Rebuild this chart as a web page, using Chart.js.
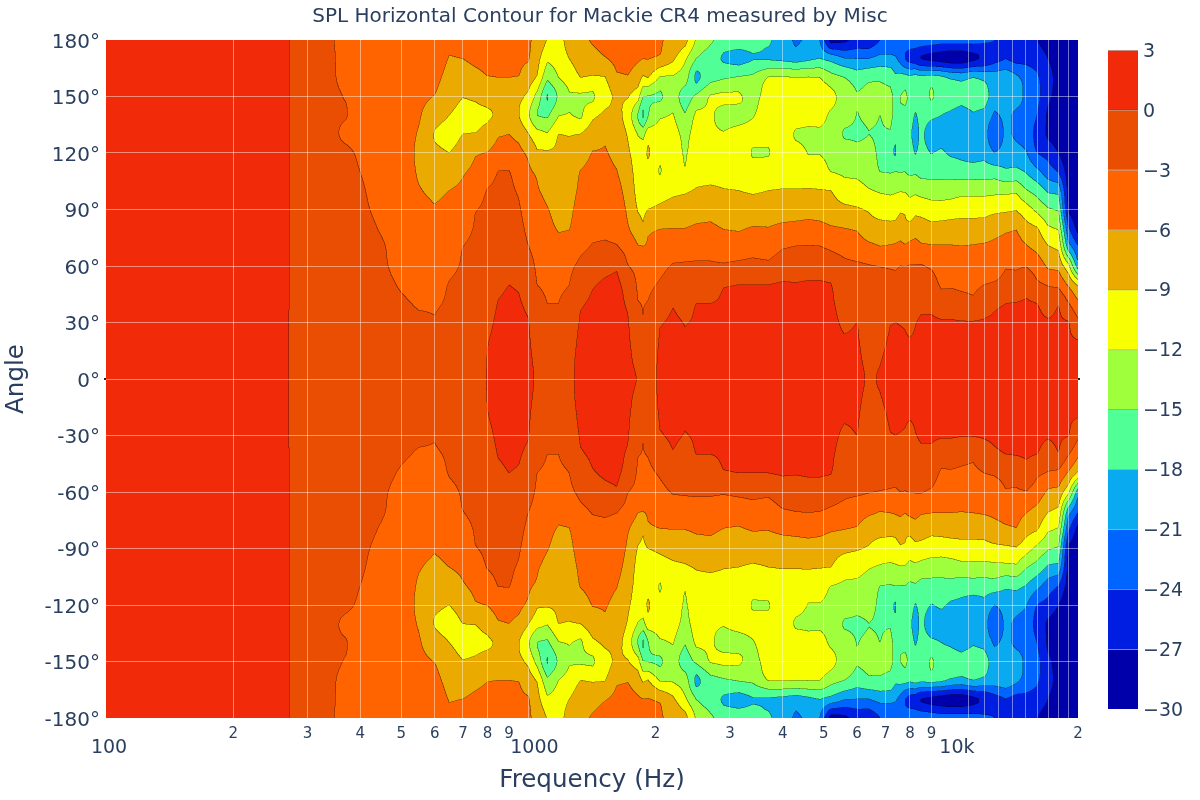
<!DOCTYPE html>
<html><head><meta charset="utf-8">
<style>html,body{margin:0;padding:0;background:#fff}canvas{display:block;position:absolute;top:0}</style>
<script src="https://cdn.jsdelivr.net/npm/chart.js@4.4.0/dist/chart.umd.js"></script>
</head><body>
<canvas id="main" width="1200" height="800" style="left:0"></canvas>
<canvas id="bar" width="100" height="800" style="left:1100px"></canvas>
<script>
const chartTitle = "SPL Horizontal Contour for Mackie CR4 measured by Misc";
const angleSteps = [0,10,20,30,40,50,60,70,80,90,100,110,120,130,140,150,160,170,180];
const levels = [-30,-27,-24,-21,-18,-15,-12,-9,-6,-3,0,3];
const bandColors = [[0,0,170],[0,30,225],[0,100,255],[10,170,240],[80,255,150],[160,255,60],[248,255,0],[234,170,0],[255,100,0],[233,78,3],[241,43,10]];
const xTickValues = [100,200,300,400,500,600,700,800,900,1000,2000,3000,4000,5000,6000,7000,8000,9000,10000,11000,12000,13000,14000,15000,16000,17000,18000,19000,20000];
const xTickLabels = [" 100","2","3","4","5","6","7","8","9","  1000","2","3","4","5","6","7","8","9","  10k","","","","","","","","","","2"];
const yTickValues = [-180,-150,-120,-90,-60,-30,0,30,60,90,120,150,180];

// SPL (dB) per frequency, angles 0..180 every 10 degrees
const s100=[1,1,1,1,1,1,1,1,1,1,1,1,1,1,1,1,1,1,1];
const s200=[1,1,1,1,1,1,1,1,1,1,1,1,1,1,1,1,1,1,1];
const s250=[.6,.6,.6,.6,.6,.6,.6,.6,.6,.6,.6,.6,.6,.6,.6,.6,.6,.6,.6];
const s270=[.05,.05,.05,.05,.1,.1,.1,.1,.1,.1,.1,.1,.1,.1,.1,.1,.1,.1,.1];
const s300=[-1.5,-1.5,-1.5,-1.5,-1.5,-1.5,-1.5,-1.5,-1.5,-1.5,-1.5,-1.5,-1.5,-1.5,-1.5,-1.5,-1.5,-1.5,-1.5];
const s340=[-1.6,-1.6,-1.7,-1.8,-1.9,-2,-2,-2.1,-2.2,-2.2,-2.3,-2.3,-2.4,-2.5,-2.6,-2.6,-2.7,-2.7,-2.8];
const s370=[-1.5,-1.5,-1.6,-1.6,-1.7,-1.8,-1.8,-1.9,-2,-2.1,-2.3,-2.4,-2.6,-3.4,-2.9,-3.1,-3.5,-3.6,-3.6];
const s400=[-1.2,-1.2,-1.3,-1.5,-1.5,-1.8,-2,-2,-2.2,-2.5,-2.7,-3,-3.3,-3.8,-3.8,-3.8,-4,-4,-4];
const s450=[-1.6,-1.6,-1.7,-1.8,-2,-2.4,-2.7,-2.8,-3.2,-3.6,-3.9,-4.1,-4.2,-4.3,-4.3,-4.4,-4.5,-4.5,-4.5];
const s500=[-2,-2,-2.2,-2.4,-2.7,-3.2,-3.6,-3.8,-4,-4.2,-4.3,-4.4,-4.5,-4.5,-4.6,-4.8,-4.8,-4.8,-4.8];
const s550=[-2.2,-2.3,-2.5,-2.7,-3.2,-3.8,-4.2,-4.5,-4.8,-5.2,-5.8,-6.3,-6.5,-6.2,-5.6,-5.2,-5,-5,-5];
const s600=[-2.4,-2.4,-2.6,-2.9,-3.2,-3.8,-4.4,-4.9,-5.3,-5.8,-6.6,-7.5,-8.5,-9.1,-8,-6.1,-5.3,-5,-5];
const s650=[-2.2,-2.2,-2.3,-2.5,-2.8,-2.9,-3.5,-4.2,-4.8,-5.4,-6,-7.5,-9,-9.8,-9,-7.8,-6.8,-6.1,-5.7];
const s700=[-1.8,-1.8,-1.9,-2,-2.2,-2.5,-2.8,-3,-3.8,-4.5,-5.5,-6.3,-8,-9,-9.8,-8.9,-7,-6,-5.6];
const s750=[-1.2,-1.3,-1.4,-1.6,-1.8,-2,-2.3,-2.5,-2.8,-3.1,-4.2,-5.3,-6.3,-8.9,-9.5,-8.6,-6.6,-5.7,-5.4];
const s800=[.1,.05,-.1,-.5,-.9,-1.3,-1.8,-2,-2.3,-2.6,-2.9,-4.2,-5.9,-8,-9.3,-8,-6.1,-5.6,-5.3];
const s850=[.9,.8,.6,.4,.1,-.4,-.9,-1.2,-1.5,-1.9,-2.5,-2.95,-4.8,-6.3,-8.7,-7.6,-6,-5.4,-5.2];
const s900=[1.2,1.2,1,.8,.4,0,-.6,-1,-1.4,-1.8,-2.4,-2.9,-4.8,-6,-7.5,-7.6,-6,-5.4,-5.2];
const s950=[1,.9,.8,.5,.2,-.2,-.9,-1.6,-2.2,-2.7,-3.3,-4.2,-5.3,-6.8,-8.9,-8.2,-6.1,-5.6,-5.4];
const s1000=[.7,.5,.3,.1,-.4,-1,-1.8,-2.9,-3.6,-4.2,-4.9,-5.6,-6.5,-8.9,-11.5,-9.6,-7.5,-5.8,-5.5];
const s1050=[-.4,-.6,-1,-1.5,-2.2,-3,-3.5,-4,-4.6,-5.2,-5.8,-6.4,-8.6,-11,-15,-13,-9.3,-8,-7];
const s1110=[-1.6,-1.8,-2.2,-2.6,-3,-3.4,-3.9,-4.6,-5.4,-5.9,-6.6,-7.5,-8.7,-11.8,-15.5,-18.2,-14.5,-11.5,-9.2];
const s1180=[-2.1,-2.3,-2.6,-2.9,-3,-3.6,-4.4,-5.3,-6.2,-6.8,-7.4,-8,-8.6,-9,-12.1,-14.5,-12,-11,-10.5];
const s1250=[-.4,-.5,-.8,-1.3,-2,-3,-3.6,-4.8,-6.1,-6.6,-7,-7.6,-8.4,-9.2,-11.8,-12.2,-10.8,-9,-7.5];
const s1330=[.5,.5,.4,.2,-.2,-1.2,-2.4,-3.5,-4.4,-5,-5.5,-5.9,-7.2,-9,-12.5,-12.4,-9,-7.5,-6.5];
const s1420=[1,1,.9,.6,.3,-.2,-1.6,-2.8,-3.6,-4.4,-5,-5.4,-5.9,-7.4,-9.6,-12.4,-9.3,-7,-5.8];
const s1520=[1.2,1.2,1.1,.9,.6,.4,-.9,-2.6,-3.5,-4.3,-4.8,-5.3,-5.8,-6.5,-8.4,-10,-9.1,-6.2,-5.2];
const s1620=[1.2,1.2,1.1,1,.8,.6,-.4,-2.8,-3.6,-4.3,-5,-5.9,-6.6,-7.2,-8,-8.4,-6.4,-5.3,-4.8];
const s1720=[.5,.4,.3,.2,-.3,-1,-2.9,-3.9,-5.7,-6.4,-7,-7.7,-8.5,-9.2,-10,-8.8,-6.2,-5.2,-4.5];
const s1820=[-.1,-.5,-1,-2,-2.9,-3.4,-3.9,-5.8,-7.7,-9.2,-10,-10.3,-10.7,-12.2,-15.2,-10.8,-7.5,-5.7,-4.6];
const s1870=[-.7,-.9,-1.4,-2.8,-3.1,-3.5,-4,-5.9,-8.5,-9.6,-10,-10.3,-10.6,-13,-18.3,-14.9,-9.5,-6,-4.6];
const s1920=[-1.3,-1.4,-1.8,-2.3,-2.9,-3.6,-4.6,-5.6,-6.5,-9,-10,-10.3,-8.6,-10.5,-15.2,-15.1,-8.9,-5.9,-4.7];
const s2050=[.5,.4,.2,-.2,-1.5,-2.7,-3.7,-4.7,-6.1,-8.5,-10,-12.2,-11,-10.5,-12.5,-15.4,-12.3,-6.5,-5.8];
const s2200=[.8,.7,.6,.4,-.2,-1.6,-2.8,-4.4,-6,-8,-9.4,-10,-10.3,-10.7,-11.8,-13.5,-12.3,-8.5,-6.5];
const s2350=[.4,.3,.1,-.1,-1,-1.9,-2.7,-4.4,-6,-8,-9.3,-11.7,-12.4,-13,-14.8,-16.5,-13.5,-11.5,-8];
const s2500=[.6,.5,.4,.2,0,-1.5,-2.6,-4.2,-5.6,-7.3,-8.8,-9.8,-10.5,-10.8,-11.4,-14.5,-18.8,-15.1,-12.4];
const s2700=[.7,.6,.5,.3,0,-1.2,-2.6,-4.2,-5.5,-7,-8.6,-9.8,-10.6,-11.6,-11.6,-11.8,-16,-16.8,-14.5];
const s2900=[.6,.5,.4,.3,.2,-.2,-2.7,-4.5,-6.1,-7.6,-8.9,-9.7,-10.4,-11.8,-13,-11.5,-15.3,-18.3,-16.5];
const s3150=[.9,.8,.7,.6,.4,0,-2.4,-4.4,-6.3,-7.7,-9,-9.8,-10.5,-11,-13,-11.6,-14.8,-19,-16.5];
const s3400=[1,.9,.8,.6,.3,0,-2.2,-4,-5.8,-7.8,-9.3,-10.8,-12.2,-11.1,-12.2,-13.2,-14.5,-18.1,-16.5];
const s3700=[1,.9,.8,.6,.3,0,-2.4,-4.3,-5.9,-8,-9,-10.3,-12.2,-10.8,-10.6,-10.7,-11.9,-18.2,-17.5];
const s4000=[1.2,1.1,1,.8,.6,.2,-1.4,-3.2,-5.2,-7.9,-8.9,-10,-10.4,-10.5,-10.5,-10.6,-11.8,-18.6,-19.6];
const s4300=[1.1,1,.9,.7,.5,.1,-1.2,-2.9,-5,-7.6,-8.9,-10,-10.8,-12.3,-10.5,-10.4,-12,-19.2,-21.5];
const s4600=[1.1,1,.9,.7,.5,.2,-1,-2.8,-4.9,-7.2,-8.8,-10.6,-12.1,-12.5,-11,-10.3,-11.9,-18.5,-20.5];
const s4900=[1.1,1.1,.9,.7,.5,.2,-1,-2.9,-5.1,-7.4,-8.9,-10.6,-12.1,-12.5,-10.8,-10.2,-12,-17.9,-21];
const s5200=[.9,.9,.7,.6,.4,.1,-1.6,-3.4,-5.7,-7.8,-9,-12,-12.6,-12.8,-12.5,-11,-14,-19,-28];
const s5600=[.5,.4,.2,-.4,-1,-1.8,-2.5,-3.9,-6,-8.3,-10.8,-12.4,-13.2,-15.3,-13.5,-13.4,-15,-20.8,-27.6];
const s6000=[.4,.3,.2,0,-.8,-1.6,-2.6,-4.6,-6.3,-8.7,-11,-12.6,-14.2,-15.4,-15.1,-14.8,-16.5,-21,-26];
const s6400=[-.2,-.4,-.8,-1.4,-1.9,-2.4,-2.9,-5.3,-7.8,-9.3,-11.8,-13,-14,-15,-14.5,-14.5,-15.6,-21,-26];
const s6800=[.1,-.1,-.6,-1.2,-1.7,-2.2,-3.1,-5.9,-7.9,-10.4,-12.3,-15,-15.5,-15.2,-15,-14.5,-15.5,-20,-24];
const s7200=[.6,.5,.3,-.1,-1,-2,-3.3,-5.7,-8.2,-10.3,-12.6,-15.2,-17.5,-15.3,-14.5,-14.5,-16,-20,-24];
const s7400=[.6,.5,.3,0,-1,-2,-3.4,-5.5,-8.2,-10,-12.4,-15,-18.3,-17,-15.6,-15.5,-17.5,-20.5,-24];
const s7600=[.6,.5,.3,-.1,-.9,-2,-3,-5.2,-7.6,-9.4,-12.2,-15.1,-16,-15.9,-15.6,-15,-17,-22,-23];
const s7800=[.5,.4,.2,-.2,-1,-1.9,-3.1,-5.6,-8.4,-9.4,-12.3,-15,-16,-16.2,-15.8,-14.6,-17,-24,-22];
const s8000=[.4,.3,.1,-.6,-1.2,-1.8,-2.9,-5.1,-8.1,-10.6,-12.9,-15.5,-16.5,-17.5,-16.5,-15.5,-17.5,-25,-22];
const s8250=[.5,.4,.2,-.1,-1,-1.8,-2.9,-4.8,-7.5,-9.8,-12.6,-15.4,-18.2,-18.9,-18.3,-16,-17,-25.5,-22];
const s8500=[.9,.8,.6,.3,-.5,-1.5,-2.8,-5.5,-7.7,-10,-13.1,-15.9,-17,-17.5,-17,-16.5,-17.5,-27,-22];
const s9000=[.9,.8,.6,.3,-.5,-1.6,-3.4,-5.7,-8.2,-10.6,-13.5,-16,-18.1,-19,-17.5,-14.7,-17,-27.5,-22.5];
const s9500=[1,.9,.7,.2,-1.5,-3.4,-4.5,-5.8,-8,-10.7,-13.5,-16,-17.6,-19,-18,-16,-17.5,-28,-23];
const s10000=[.9,.8,.6,.2,-1.5,-3.3,-4.5,-5.8,-7.9,-10.4,-13.4,-16,-18.4,-19.5,-18.5,-16.5,-18.5,-28.5,-23];
const s10600=[.9,.8,.6,.1,-2,-3.5,-4.8,-5.9,-8,-10,-13,-16.5,-18.8,-20.5,-19.5,-17,-19,-28.5,-23];
const s11300=[.9,.8,.6,.1,-2.4,-3.6,-4.9,-5.8,-8,-10,-13,-16.4,-19.5,-21,-18.4,-16.4,-18,-27.5,-23];
const s12000=[1,.9,.6,.2,-1.2,-3,-4.5,-5.6,-7.9,-10,-13,-16.5,-18.7,-19.5,-18.8,-16.8,-18.8,-26.5,-23.5];
const s12700=[1.2,1.1,.8,.4,-.5,-2.7,-4.2,-5.4,-7,-9.7,-12.8,-16.5,-21,-23.8,-21.5,-19.5,-19.5,-25,-24];
const s13500=[1.3,1.2,1,.7,0,-2.2,-3.2,-5,-6.5,-9.5,-12.8,-17.5,-19.5,-20.3,-20.3,-19.5,-19,-24,-25];
const s14300=[1.5,1.4,1.2,.8,.1,-2,-3.3,-4.8,-6.2,-9.2,-12.6,-17.2,-19.8,-21.5,-21.5,-20,-20.5,-25,-26];
const s15100=[1.6,1.5,1.2,.9,.3,-1,-3.1,-5.7,-8,-10.8,-14.8,-18.2,-20.8,-22,-21.8,-21.5,-22,-25,-27];
const s16000=[1.1,1,.8,.4,0,-2.5,-4.2,-6.8,-8.8,-12.7,-16.2,-20.2,-24,-25,-24,-23,-23.5,-25.5,-27];
const s17000=[.9,.8,.5,.2,-1.2,-3.2,-6.5,-8.8,-11.6,-14.7,-18.5,-22.5,-25,-27.5,-27.5,-26.5,-26,-27,-28];
const s18000=[.8,.7,.5,.3,-.2,-3.6,-6.8,-9.5,-12.3,-15.3,-18.9,-24.1,-27,-28.5,-28.5,-28,-28,-28.5,-29];
const s19000=[.6,.5,.3,.1,-2.8,-6.4,-11.2,-19.5,-23.6,-27.5,-28,-28.5,-29,-29,-29,-29,-29,-29,-29];
const s20000=[.3,.2,.1,-2.4,-5.4,-9.5,-19.5,-23.6,-28,-29,-29,-29,-29,-29,-29,-29,-29,-29,-29];

const frequencies=[100,200,250,270,300,340,370,400,450,500,550,600,650,700,750,800,850,900,950,1000,1050,1110,1180,1250,1330,1420,1520,1620,1720,1820,1870,1920,2050,2200,2350,2500,2700,2900,3150,3400,3700,4000,4300,4600,4900,5200,5600,6000,6400,6800,7200,7400,7600,7800,8000,8250,8500,9000,9500,10000,10600,11300,12000,12700,13500,14300,15100,16000,17000,18000,19000,20000];
const columns=[s100,s200,s250,s270,s300,s340,s370,s400,s450,s500,s550,s600,s650,s700,s750,s800,s850,s900,s950,s1000,s1050,s1110,s1180,s1250,s1330,s1420,s1520,s1620,s1720,s1820,s1870,s1920,s2050,s2200,s2350,s2500,s2700,s2900,s3150,s3400,s3700,s4000,s4300,s4600,s4900,s5200,s5600,s6000,s6400,s6800,s7200,s7400,s7600,s7800,s8000,s8250,s8500,s9000,s9500,s10000,s10600,s11300,s12000,s12700,s13500,s14300,s15100,s16000,s17000,s18000,s19000,s20000];

const TEXT = "#2a3f5f", FONT = "'DejaVu Sans', Verdana, sans-serif";
const css = c => "rgb(" + c.join(",") + ")";
// the measurement is mirrored: negative angles repeat the positive ones
const angleAxis = angleSteps.slice(1).reverse().map(a => -a).concat(angleSteps);
const valueAt = (i, j) => columns[i][Math.abs(angleAxis[j]) / 10];
const gridPoints = [];
frequencies.forEach((f, i) => angleAxis.forEach((a, j) => gridPoints.push({x: f, y: a, v: valueAt(i, j)})));

// smooth along the angle axis between two measured rows, never leaving their range
function smooth(i, j, t) {
  const n = angleAxis.length;
  const p0 = valueAt(i, Math.max(0, j - 1)), p1 = valueAt(i, j), p2 = valueAt(i, j + 1), p3 = valueAt(i, Math.min(n - 1, j + 2));
  const v = 0.5 * (2 * p1 + (p2 - p0) * t + (2 * p0 - 5 * p1 + 4 * p2 - p3) * t * t + (3 * p1 - p0 - 3 * p2 + p3) * t * t * t);
  return Math.min(Math.max(p1, p2), Math.max(Math.min(p1, p2), v));
}

const contourPlugin = {
  id: "contour",
  beforeDraw(chart) {
    const {ctx, chartArea: ca, scales: {x, y}} = chart;
    const S = 2, L = Math.round(ca.left), T = Math.round(ca.top);
    const W = Math.round(ca.right - ca.left), H = Math.round(ca.bottom - ca.top);
    const sw = W * S, sh = H * S;
    const xs = frequencies.map(f => x.getPixelForValue(f));
    const ys = angleAxis.map(a => y.getPixelForValue(a));
    const band = new Uint8Array(sw * sh);
    // column / row lookup for every sample through the chart's scales
    const ci = new Int32Array(sw), cf = new Float64Array(sw), ri = new Int32Array(sh), rf = new Float64Array(sh);
    for (let a = 0, i = 0; a < sw; a++) {
      const p = L + (a + .5) / S;
      while (i < xs.length - 2 && p > xs[i + 1]) i++;
      ci[a] = i; cf[a] = Math.min(1, Math.max(0, (p - xs[i]) / (xs[i + 1] - xs[i])));
    }
    for (let b = 0, j = ys.length - 2; b < sh; b++) {
      const p = T + (b + .5) / S;
      while (j > 0 && p > ys[j]) j--;
      ri[b] = j; rf[b] = Math.min(1, Math.max(0, (p - ys[j]) / (ys[j + 1] - ys[j])));
    }
    const colAtRow = new Float64Array(columns.length);
    for (let b = 0; b < sh; b++) {
      const j = ri[b], t = rf[b];
      for (let i = 0; i < columns.length; i++) colAtRow[i] = smooth(i, j, t);
      for (let a = 0; a < sw; a++) {
        const i = ci[a], s = cf[a];
        const v = colAtRow[i] * (1 - s) + colAtRow[i + 1] * s;
        let k = 0;
        while (k < bandColors.length - 1 && v >= levels[k + 1]) k++;
        band[b * sw + a] = k;
      }
    }
    const off = document.createElement("canvas");
    off.width = sw; off.height = sh;
    const octx = off.getContext("2d"), img = octx.createImageData(sw, sh), d = img.data;
    for (let b = 0; b < sh; b++) for (let a = 0; a < sw; a++) {
      const n = b * sw + a, k = band[n], c = bandColors[k];
      const edge = (a + 1 < sw && band[n + 1] !== k) || (b + 1 < sh && band[n + sw] !== k);
      const f = edge ? 0.42 : 1, o = n * 4;
      d[o] = c[0] * f; d[o + 1] = c[1] * f; d[o + 2] = c[2] * f; d[o + 3] = 255;
    }
    octx.putImageData(img, 0, 0);
    ctx.save();
    ctx.imageSmoothingEnabled = true;
    ctx.drawImage(off, L, T, W, H);
    ctx.restore();
  },
  afterDraw(chart) {
    const {ctx, chartArea: ca, scales: {y}} = chart;
    const y0 = y.getPixelForValue(0);
    ctx.fillStyle = "#222";
    ctx.fillRect(ca.left - 2, y0 - 1, 2, 2);
    ctx.fillRect(ca.right, y0 - 1, 2, 2);
  }
};

new Chart(document.getElementById("main"), {
  type: "scatter",
  data: {datasets: [{label: "SPL", data: gridPoints, pointRadius: 0, pointHoverRadius: 0, showLine: false}]},
  plugins: [contourPlugin],
  options: {
    responsive: false, animation: false, events: [],
    layout: {padding: 0},
    plugins: {
      legend: {display: false}, tooltip: {enabled: false},
      title: {display: true, text: chartTitle, color: TEXT, font: {family: FONT, size: 20, weight: "normal", lineHeight: 1.2}, padding: {top: 5, bottom: 11}}
    },
    scales: {
      x: {
        type: "logarithmic", min: 100, max: 20000,
        afterFit(s) { s.height = 82; },
        afterBuildTicks(s) { s.ticks = xTickValues.map(v => ({value: v})); },
        border: {display: false},
        grid: {drawTicks: false, tickLength: 0, lineWidth: 1,
          color: c => (c.tick && [100, 900, 10000, 20000].includes(c.tick.value)) ? "rgba(0,0,0,0)" : "rgba(255,255,255,0.45)"},
        ticks: {
          autoSkip: false, maxRotation: 0, minRotation: 0, padding: 7, color: TEXT,
          font: c => {
            const big = c.tick && [100, 1000, 10000].includes(c.tick.value);
            return big ? {family: FONT, size: 19, lineHeight: 0.82} : {family: FONT, size: 15, lineHeight: 1.2};
          },
          callback(v) {
            const i = xTickValues.indexOf(v), t = i < 0 ? "" : xTickLabels[i];
            return [100, 1000, 10000].includes(v) ? ["", t] : t;
          }
        },
        title: {display: true, text: "Frequency (Hz)", color: TEXT, font: {family: FONT, size: 24.6, lineHeight: 1.2}, padding: {top: 0, bottom: 5}}
      },
      y: {
        type: "linear", min: -180, max: 180,
        afterFit(s) { s.width = 106; },
        afterBuildTicks(s) { s.ticks = yTickValues.map(v => ({value: v})); },
        border: {display: false},
        grid: {drawTicks: false, tickLength: 0, lineWidth: 1,
          color: c => (c.tick && Math.abs(c.tick.value) === 180) ? "rgba(0,0,0,0)" : "rgba(255,255,255,0.45)"},
        ticks: {padding: 6, color: TEXT, font: {family: FONT, size: 20, lineHeight: 0.25}, callback: v => ["", v + "°"]},
        title: {display: true, text: "Angle", color: TEXT, font: {family: FONT, size: 24.6, lineHeight: 1.2}, padding: {top: 2, bottom: 0}}
      },
      gutter: {
        axis: "y", position: "right", min: 0, max: 1,
        afterFit(s) { s.width = 122; },
        border: {display: false}, grid: {display: false, drawTicks: false}, ticks: {display: false}
      }
    }
  }
});

// colour bar: one floating bar per band between adjacent contour levels
new Chart(document.getElementById("bar"), {
  type: "bar",
  data: {
    labels: ["dB"],
    datasets: bandColors.map((c, k) => ({
      data: [[levels[k], levels[k + 1]]], backgroundColor: css(c),
      borderColor: "rgba(0,0,0,0.3)", borderWidth: {top: 1, bottom: 0, left: 0, right: 0}, borderSkipped: false,
      barPercentage: 1, categoryPercentage: 1, grouped: false
    }))
  },
  options: {
    responsive: false, animation: false, events: [],
    layout: {padding: {left: 8, right: 0, top: 50, bottom: 91}},
    plugins: {legend: {display: false}, tooltip: {enabled: false}},
    scales: {
      x: {display: false},
      y: {
        position: "right", min: -30, max: 3,
        afterFit(s) { s.width = 62; },
        afterBuildTicks(s) { s.ticks = levels.map(v => ({value: v})); },
        border: {display: false},
        grid: {display: false, drawTicks: false},
        ticks: {padding: 5, color: TEXT, font: {family: FONT, size: 19, lineHeight: 0.2}, callback: v => ["", v < 0 ? "\u2212" + Math.abs(v) : String(v)]}
      }
    }
  }
});
</script>
</body></html>
